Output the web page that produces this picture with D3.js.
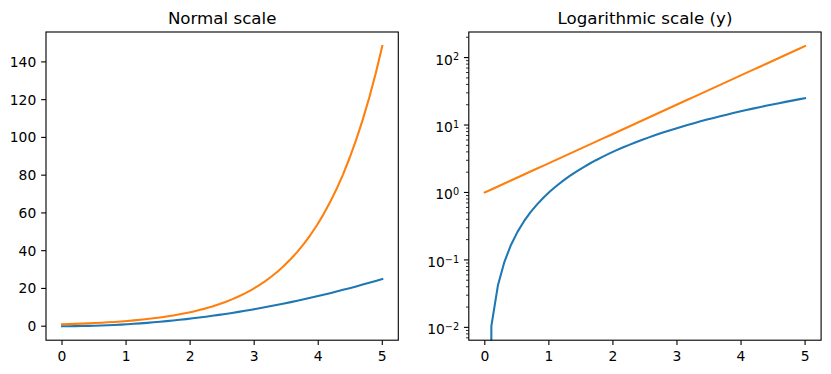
<!DOCTYPE html>
<html><head><meta charset="utf-8">
<script src="https://cdn.jsdelivr.net/npm/d3@7"></script>
<style>body{margin:0;background:#fff}svg{display:block}text{font-family:"DejaVu Sans",sans-serif;fill:#000}</style>
</head><body><div id="c"></div>
<script>
const xs = [0,0.10204,0.20408,0.30612,0.40816,0.5102,0.61224,0.71429,0.81633,0.91837,1.02041,1.12245,1.22449,1.32653,1.42857,1.53061,1.63265,1.73469,1.83673,1.93878,2.04082,2.14286,2.2449,2.34694,2.44898,2.55102,2.65306,2.7551,2.85714,2.95918,3.06122,3.16327,3.26531,3.36735,3.46939,3.57143,3.67347,3.77551,3.87755,3.97959,4.08163,4.18367,4.28571,4.38776,4.4898,4.59184,4.69388,4.79592,4.89796,5];
const squareVals = [0,0.01041,0.04165,0.09371,0.1666,0.26031,0.37484,0.5102,0.66639,0.8434,1.04123,1.25989,1.49938,1.75968,2.04082,2.34277,2.66556,3.00916,3.37359,3.75885,4.16493,4.59184,5.03957,5.50812,5.9975,6.50771,7.03873,7.59059,8.16327,8.75677,9.37109,10.00625,10.66222,11.33903,12.03665,12.7551,13.49438,14.25448,15.0354,15.83715,16.65973,17.50312,18.36735,19.2524,20.15827,21.08496,22.03249,23.00085,23.98997,25];
const expVals = [1,1.1074,1.2264,1.3581,1.504,1.6656,1.8446,2.0427,2.2622,2.5051,2.7743,3.0724,3.4024,3.7679,4.1727,4.6209,5.1173,5.667,6.2758,6.95,7.6969,8.5234,9.439,10.453,11.576,12.819,14.197,15.722,17.41,19.281,21.354,23.646,26.186,28.999,32.114,35.564,39.384,43.615,48.3,53.488,59.242,65.597,72.644,80.447,89.089,98.676,109.276,121.01,134.01,148.4132];
const xTicks = [0,1,2,3,4,5];
const linTicks = [0,20,40,60,80,100,120,140];
const logExps = [-2,-1,0,1,2];
const titles = ["Normal scale","Logarithmic scale (y)"];
const colors = ["#1f77b4","#ff7f0e"];

const W=831,H=374;
const svg=d3.select("#c").append("svg").attr("width",W).attr("height",H);
const FS=13.89, TL=4.86, PAD=4.86;
const axTop=32, axBot=340.2;
const panels=[{l:46,r:398.3},{l:468.8,r:821.1}];
const series=[squareVals,expVals];

const xScales = panels.map(p=>d3.scaleLinear().domain([-0.25,5.25]).range([p.l,p.r]));
const maxAll=d3.max(expVals), minAll=0, span=maxAll-minAll;
const yLin=d3.scaleLinear().domain([minAll-0.05*span,maxAll+0.05*span]).range([axBot,axTop]);
const pos=[...squareVals,...expVals].filter(v=>v>0);
const lmin=Math.log10(d3.min(pos)), lmax=Math.log10(d3.max(pos)), ls=lmax-lmin;
const yLog=d3.scaleLog().domain([Math.pow(10,lmin-0.05*ls),Math.pow(10,lmax+0.05*ls)]).range([axBot,axTop]);
const yScales=[yLin,yLog];

panels.forEach((p,pi)=>{
  const x=xScales[pi], y=yScales[pi];
  const g=svg.append("g");
  const cid="clip"+pi;
  svg.append("clipPath").attr("id",cid).append("rect").attr("x",p.l).attr("y",axTop).attr("width",p.r-p.l).attr("height",axBot-axTop);
  const line=d3.line().x((d,i)=>x(xs[i])).y(d=>y(pi===1? Math.max(d,1e-300):d));
  series.forEach((s,si)=>{
    g.append("path").datum(s).attr("d",line).attr("fill","none").attr("stroke",colors[si])
     .attr("stroke-width",2.08).attr("stroke-linejoin","round").attr("stroke-linecap","square").attr("clip-path",`url(#${cid})`);
  });
  g.append("rect").attr("x",p.l).attr("y",axTop).attr("width",p.r-p.l).attr("height",axBot-axTop)
   .attr("fill","none").attr("stroke","#000").attr("stroke-width",1.11);
  xTicks.forEach(t=>{
    const xx=x(t);
    g.append("line").attr("x1",xx).attr("x2",xx).attr("y1",axBot).attr("y2",axBot+TL).attr("stroke","#000").attr("stroke-width",1.11);
    g.append("text").attr("x",xx).attr("y",axBot+TL+PAD+10.6).attr("text-anchor","middle").attr("font-size",FS).text(t);
  });
  g.append("text").attr("x",(p.l+p.r)/2).attr("y",axTop-8.33).attr("text-anchor","middle").attr("font-size",16.67).text(titles[pi]);
  if(pi===0){
    linTicks.forEach(t=>{
      const yy=y(t);
      g.append("line").attr("x1",p.l-TL).attr("x2",p.l).attr("y1",yy).attr("y2",yy).attr("stroke","#000").attr("stroke-width",1.11);
      g.append("text").attr("x",p.l-TL-PAD).attr("y",yy+5.06).attr("text-anchor","end").attr("font-size",FS).text(t);
    });
  } else {
    const [d0,d1]=y.domain();
    for(let e=-3;e<=2;e++){
      for(let k=2;k<=9;k++){
        const v=k*Math.pow(10,e);
        if(v<d0||v>d1) continue;
        const yy=y(v);
        g.append("line").attr("x1",p.l-2.78).attr("x2",p.l).attr("y1",yy).attr("y2",yy).attr("stroke","#000").attr("stroke-width",0.83);
      }
    }
    logExps.forEach(e=>{
      const yy=y(Math.pow(10,e));
      g.append("line").attr("x1",p.l-TL).attr("x2",p.l).attr("y1",yy).attr("y2",yy).attr("stroke","#000").attr("stroke-width",1.11);
      const t=g.append("text").attr("x",p.l-TL-PAD).attr("y",yy+7).attr("text-anchor","end").attr("font-size",FS);
      t.append("tspan").text("10");
      t.append("tspan").attr("font-size",9.7).attr("dy",-4.3).text(e<0?"\u2212"+(-e):String(e));
    });
  }
});
</script></body></html>
